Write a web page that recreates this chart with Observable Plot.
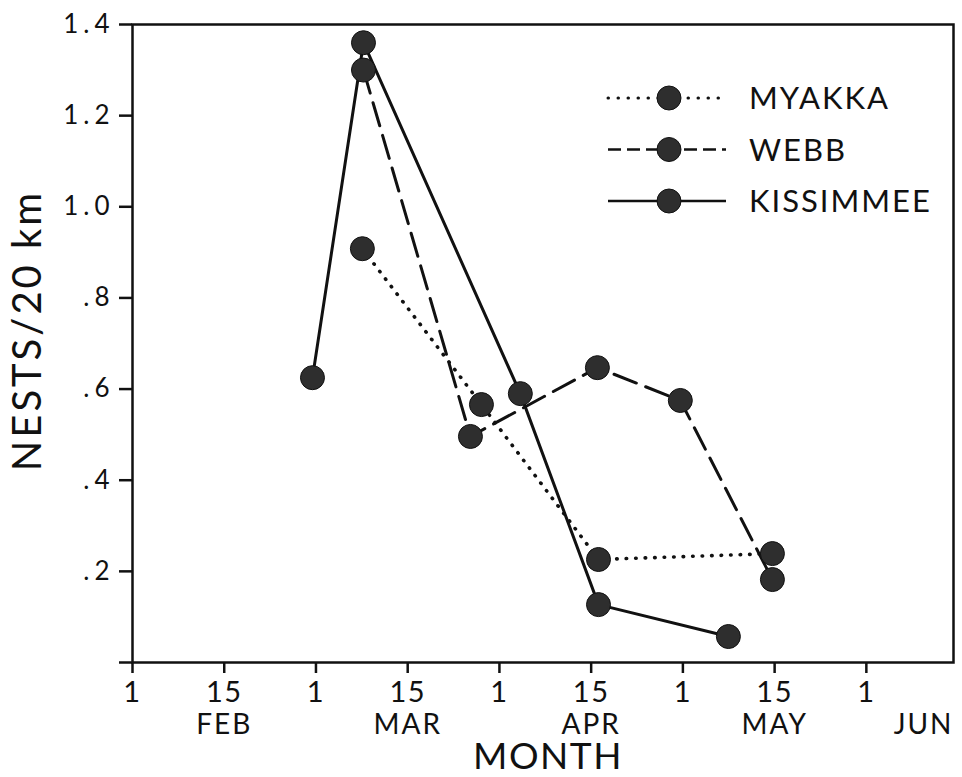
<!DOCTYPE html>
<html><head><meta charset="utf-8">
<script src="https://cdn.jsdelivr.net/npm/d3@7"></script>
<script src="https://cdn.jsdelivr.net/npm/@observablehq/plot@0.6"></script>
<style>
body{margin:0;background:#fff}
#chart svg text{letter-spacing:1.5px}
#chart g[aria-label="y-axis tick label"] text{letter-spacing:5px}
#chart g.ytitle text{letter-spacing:3px}
#chart g.months text{letter-spacing:2px}
</style>
</head><body><div id="chart"></div>
<script>
// x position as fractional month number: 2 = 1 Feb, 2.5 = 15 Feb, 3 = 1 Mar ...
const seriesNames = ["MYAKKA", "WEBB", "KISSIMMEE"];
const myakkaX = [3.253, 3.902, 4.540, 5.488];
const myakkaY = [0.908, 0.566, 0.226, 0.239];
const webbX = [3.259, 3.842, 4.534, 4.986, 5.488];
const webbY = [1.300, 0.496, 0.647, 0.575, 0.182];
const kissX = [2.981, 3.259, 4.114, 4.540, 5.248];
const kissY = [0.625, 1.360, 0.590, 0.127, 0.057];

const xTicks = [2, 2.5, 3, 3.5, 4, 4.5, 5, 5.5, 6];
const xTickLabels = ["1", "15", "1", "15", "1", "15", "1", "15", "1"];
const monthPos = [2.5, 3.5, 4.5, 5.5, 6.5];
const monthNames = ["FEB", "MAR", "APR", "MAY", "JUN"];
const yTicks = [0, 0.2, 0.4, 0.6, 0.8, 1.0, 1.2, 1.4];
const yTickLabels = ["", ".2", ".4", ".6", ".8", "1.0", "1.2", "1.4"];
const xTitle = "MONTH";
const yTitle = "NESTS/20 km";

const xMax = 6.475;
const toRows = (name, xs, ys) => xs.map((x, i) => ({series: name, x, y: ys[i]}));
const myakka = toRows("MYAKKA", myakkaX, myakkaY);
const webb = toRows("WEBB", webbX, webbY);
const kiss = toRows("KISSIMMEE", kissX, kissY);
const allPts = [...myakka, ...webb, ...kiss];
const xLab = new Map(xTicks.map((t, i) => [t, xTickLabels[i]]));
const yLab = new Map(yTicks.map((t, i) => [t, yTickLabels[i]]));
const months = monthNames.map((m, i) => ({m, x: Math.min(monthPos[i], xMax), last: monthPos[i] > xMax}));

const font = "Lato, 'Liberation Sans', sans-serif";
const ink = "#111";
const styles = {
  MYAKKA: {dash: "0.5,9", cap: "round", w: 3.6, ldash: "0.5,9.5"},
  WEBB: {dash: "24,10", cap: "butt", w: 3, ldash: "13,6"},
  KISSIMMEE: {dash: null, cap: "butt", w: 3, ldash: null}
};

const chart = Plot.plot({
  width: 962, height: 777,
  marginLeft: 132, marginRight: 9, marginTop: 24, marginBottom: 115,
  style: {fontFamily: font, fontWeight: 400, color: ink, background: "#fff"},
  x: {domain: [2, xMax], axis: null},
  y: {domain: [0, 1.4], axis: null},
  marks: [
    Plot.axisY({ticks: yTicks, tickFormat: d => yLab.get(d), tickSize: 13, tickPadding: 5, fontSize: 26, strokeWidth: 2.5, label: null}),
    Plot.axisX({ticks: xTicks, tickFormat: d => xLab.get(d), tickSize: 11, tickPadding: 8, fontSize: 29, strokeWidth: 2.5, label: null}),
    Plot.text(months.filter(d => !d.last), {x: "x", text: "m", frameAnchor: "bottom", dy: 63, lineAnchor: "middle", fontSize: 28, className: "months"}),
    Plot.text(months.filter(d => d.last), {x: "x", text: "m", frameAnchor: "bottom", dy: 63, lineAnchor: "middle", textAnchor: "end", fontSize: 28, className: "months"}),
    Plot.text([xTitle], {frameAnchor: "bottom", dx: 5, dy: 94.5, lineAnchor: "middle", textAnchor: "middle", fontSize: 37}),
    Plot.text([yTitle], {frameAnchor: "left", rotate: -90, dx: -104, dy: -13, lineAnchor: "middle", textAnchor: "middle", fontSize: 40, className: "ytitle"}),
    Plot.line(myakka, {x: "x", y: "y", stroke: ink, strokeWidth: styles.MYAKKA.w, strokeDasharray: styles.MYAKKA.dash, strokeLinecap: "round"}),
    Plot.line(webb, {x: "x", y: "y", stroke: ink, strokeWidth: styles.WEBB.w, strokeDasharray: styles.WEBB.dash}),
    Plot.line(kiss, {x: "x", y: "y", stroke: ink, strokeWidth: styles.KISSIMMEE.w}),
    Plot.dot(allPts, {x: "x", y: "y", r: 12, fill: "#2e2e2e", stroke: "#111", strokeWidth: 1}),
    Plot.frame({stroke: ink, strokeWidth: 2.5})
  ]
});
document.getElementById("chart").append(chart);

// in-plot legend (upper right)
const svg = d3.select(chart);
const lg = svg.append("g").attr("font-family", font).attr("font-weight", 400).attr("text-anchor", "start");
seriesNames.forEach((name, i) => {
  const s = styles[name];
  const y = 98 + i * 51.5;
  const g = lg.append("g").attr("transform", `translate(0,${y})`);
  g.append("line").attr("x1", 608).attr("x2", 726).attr("y1", 0).attr("y2", 0)
    .attr("stroke", ink).attr("stroke-width", name === "MYAKKA" ? 3 : 2.6)
    .attr("stroke-dasharray", s.ldash).attr("stroke-linecap", s.cap);
  g.append("circle").attr("cx", 669).attr("cy", 0).attr("r", 12).attr("fill", "#2e2e2e").attr("stroke", "#111");
  g.append("text").attr("x", 749).attr("y", 0).attr("dy", "0.36em").attr("font-size", 31)
    .attr("text-anchor", "start").attr("fill", ink).style("letter-spacing", "2px").text(name);
});
</script>
</body></html>
